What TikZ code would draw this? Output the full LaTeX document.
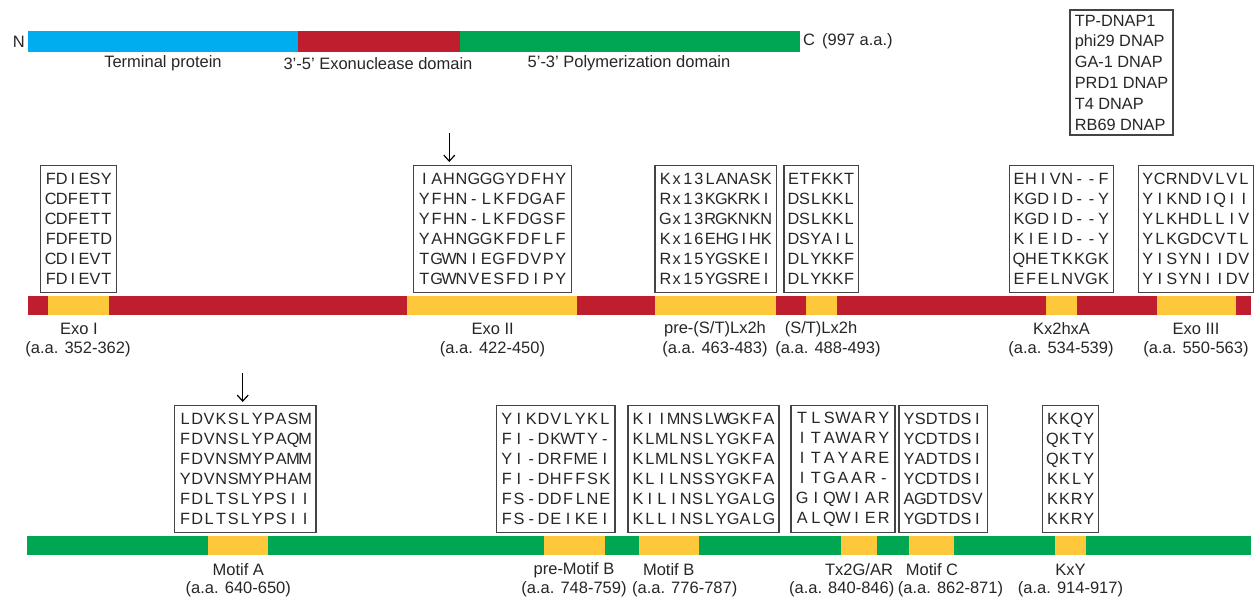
\documentclass[tikz,border=0pt]{standalone}
\usepackage{fontspec}
\setmainfont{Liberation Sans}
\usetikzlibrary{arrows.meta}
\definecolor{tpblue}{HTML}{00AEEF}
\definecolor{exored}{HTML}{BE1E2D}
\definecolor{polgreen}{HTML}{00A651}
\definecolor{motifyel}{HTML}{FDC83B}
\definecolor{boxgray}{HTML}{444444}
\def\sqloop#1{\ifx#1\relax\else\makebox[\sqw]{#1}\expandafter\sqloop\fi}
\newcommand\sqcells[2]{\def\sqw{#1}\sqloop#2\relax}
\newcommand\sixrows[7]{\sqcells{#1}{#2}\\\sqcells{#1}{#3}\\\sqcells{#1}{#4}\\\sqcells{#1}{#5}\\\sqcells{#1}{#6}\\\sqcells{#1}{#7}}
\tikzset{
  lab/.style={inner sep=0pt, font=\fontsize{16.5}{20}\selectfont, text=black!85},
  seqbox/.style={draw=boxgray, line width=1.2pt, inner sep=0pt, minimum height=127pt, align=center, font=\fontsize{16.3}{20}\selectfont, text=black!85},
  arr/.style={line width=1.2pt, -{Straight Barb[length=6pt,width=11pt,line width=1.2pt]}},
}
\begin{document}
\begin{tikzpicture}[x=1pt,y=-1pt]
\useasboundingbox (0,0) rectangle (1254,598);
% top domain bar
\fill[tpblue] (28,31) rectangle (298,52);
\fill[exored] (298,31) rectangle (460,52);
\fill[polgreen] (460,31) rectangle (800,52);
\node[lab, anchor=east] (nlab) at (25,41.5) {N};
\node[lab, anchor=west] (clab) at (803,41.5) {C\hspace{7pt}(997 a.a.)};
\node[lab] (tplab) at (163,63.5) {Terminal protein};
\node[lab] (exolab) at (378,63.5) {3’-5’ Exonuclease domain};
\node[lab] (pollab) at (629,63.5) {5’-3’ Polymerization domain};
% legend
\node[draw=boxgray, line width=1.2pt, minimum width=103pt, minimum height=125pt, inner sep=0pt, align=left, font=\fontsize{16.3}{20.8}\selectfont, text=black!85] (legend) at (1121.5,72.5)
 {TP-DNAP1\\phi29 DNAP\\GA-1 DNAP\\PRD1 DNAP\\T4 DNAP\\RB69 DNAP};
% middle bar (exonuclease)
\fill[exored] (28,295.7) rectangle (1251,314.7);
\foreach \a/\b in {48.3/109.3, 407.3/576.7, 655/776, 806/836.7, 1046/1076.7, 1157/1235.7}
  \fill[motifyel] (\a,295.7) rectangle (\b,314.7);
% bottom bar (polymerization)
\fill[polgreen] (27.3,536) rectangle (1251,555);
\foreach \a/\b in {207.7/268.3, 544/605, 638.7/699.3, 841.3/877, 908.7/954, 1055.3/1086}
  \fill[motifyel] (\a,536) rectangle (\b,555);
% sequence boxes, top row
\node[seqbox, minimum width=76.4pt] (exoIbox) at (78.5,229.2) {\sixrows{11.1pt}{FDIESY}{CDFETT}{CDFETT}{FDFETD}{CDIEVT}{FDIEVT}};
\node[seqbox, minimum width=158.4pt] (exoIIbox) at (492.5,229.2) {\sixrows{12.4pt}{IAHNGGGYDFHY}{YFHN-LKFDGAF}{YFHN-LKFDGSF}{YAHNGGKFDFLF}{TGWNIEGFDVPY}{TGWNVESFDIPY}};
\node[seqbox, minimum width=121.7pt] (prestbox) at (715.8,229.2) {\sixrows{11.2pt}{Kx13LANASK}{Rx13KGKRKI}{Gx13RGKNKN}{Kx16EHGIHK}{Rx15YGSKEI}{Rx15YGSREI}};
\node[seqbox, minimum width=74.7pt] (stbox) at (821.3,229.2) {\sixrows{11.1pt}{ETFKKT}{DSLKKL}{DSLKKL}{DSYAIL}{DLYKKF}{DLYKKF}};
\node[seqbox, minimum width=104pt] (kxabox) at (1061.3,229.2) {\sixrows{12.1pt}{EHIVN--F}{KGDID--Y}{KGDID--Y}{KIEID--Y}{QHETKKGK}{EFELNVGK}};
\node[seqbox, minimum width=115pt] (exoIIIbox) at (1195.8,229.2) {\sixrows{12pt}{YCRNDVLVL}{YIKNDIQII}{YLKHDLLIV}{YLKGDCVTL}{YISYNIIDV}{YISYNIIDV}};
% sequence boxes, bottom row
\node[seqbox, minimum width=141.7pt] (motAbox) at (245.2,469.2) {\sixrows{12pt}{LDVKSLYPASM}{FDVNSLYPAQM}{FDVNSMYPAMM}{YDVNSMYPHAM}{FDLTSLYPSII}{FDLTSLYPSII}};
\node[seqbox, minimum width=118.3pt] (premotBbox) at (555.8,469.2) {\sixrows{12.26pt}{YIKDVLYKL}{FI-DKWTY-}{YI-DRFMEI}{FI-DHFFSK}{FS-DDFLNE}{FS-DEIKEI}};
\node[seqbox, minimum width=151pt] (motBbox) at (703.5,469.2) {\sixrows{11.9pt}{KIIMNSLWGKFA}{KLMLNSLYGKFA}{KLMLNSLYGKFA}{KLILNSSYGKFA}{KILINSLYGALG}{KLLINSLYGALG}};
\node[seqbox, minimum width=104pt] (txbox) at (843,469.2) {\sixrows{13.6pt}{TLSWARY}{ITAWARY}{ITAYARE}{ITGAAR-}{GIQWIAR}{ALQWIER}};
\node[seqbox, minimum width=88.3pt] (motCbox) at (943.2,469.2) {\sixrows{11.4pt}{YSDTDSI}{YCDTDSI}{YADTDSI}{YCDTDSI}{AGDTDSV}{YGDTDSI}};
\node[seqbox, minimum width=56pt] (kxybox) at (1070.7,469.2) {\sixrows{12.1pt}{KKQY}{QKTY}{QKTY}{KKLY}{KKRY}{KKRY}};
% arrows
\coordinate (arrAs) at (449.3,133);
\coordinate (arrAe) at (449.3,162);
\draw[arr] (arrAs) -- (arrAe);
\coordinate (arrBs) at (242.7,373);
\coordinate (arrBe) at (242.7,402);
\draw[arr] (arrBs) -- (arrBe);
% labels, top row
\node[lab] (l1a) at (79,329) {Exo I};
\node[lab] (l1b) at (78,349) {(a.a. 352-362)};
\node[lab] (l2a) at (492.7,329) {Exo II};
\node[lab] (l2b) at (492.5,349) {(a.a. 422-450)};
\node[lab] (l3a) at (715,329) {pre-(S/T)Lx2h};
\node[lab] (l3b) at (715,349) {(a.a. 463-483)};
\node[lab] (l4a) at (821,329) {(S/T)Lx2h};
\node[lab] (l4b) at (828,349) {(a.a. 488-493)};
\node[lab] (l5a) at (1061.5,329) {Kx2hxA};
\node[lab] (l5b) at (1061,349) {(a.a. 534-539)};
\node[lab] (l6a) at (1196,329) {Exo III};
\node[lab] (l6b) at (1196,349) {(a.a. 550-563)};
% labels, bottom row
\node[lab] (m1a) at (238.3,570) {Motif A};
\node[lab] (m1b) at (238.3,589.5) {(a.a. 640-650)};
\node[lab] (m2a) at (574,570) {pre-Motif B};
\node[lab] (m2b) at (574,589.5) {(a.a. 748-759)};
\node[lab] (m3a) at (668.7,570) {Motif B};
\node[lab] (m3b) at (684.7,589.5) {(a.a. 776-787)};
\node[lab] (m4a) at (859,570) {Tx2G/AR};
\node[lab] (m4b) at (841.7,589.5) {(a.a. 840-846)};
\node[lab] (m5a) at (932,570) {Motif C};
\node[lab] (m5b) at (950.5,589.5) {(a.a. 862-871)};
\node[lab] (m6a) at (1070.5,570) {KxY};
\node[lab] (m6b) at (1070.5,589.5) {(a.a. 914-917)};
\end{tikzpicture}
\end{document}
